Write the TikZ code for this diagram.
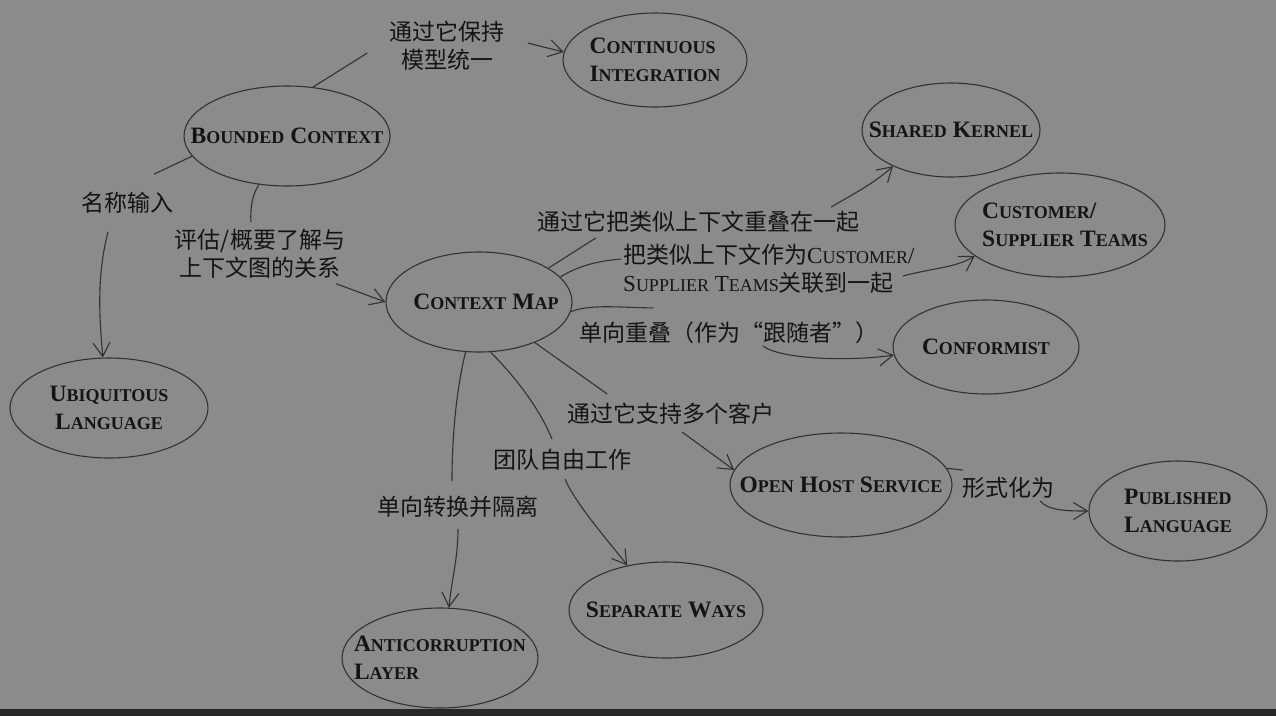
\documentclass[tikz,border=0pt]{standalone}
\usepackage{fontspec}
\setmainfont{Liberation Serif}
\newfontfamily\cjk{Noto Sans CJK SC}
\usepackage{xcolor}
\usetikzlibrary{arrows.meta,shapes.geometric}
\definecolor{bgray}{RGB}{139,139,139}
\definecolor{ink}{RGB}{20,20,20}
\definecolor{pen}{RGB}{50,50,50}
\definecolor{strip}{RGB}{40,40,40}
\newcommand\lowcaps[1]{{\fontsize{18pt}{28pt}\selectfont #1}}

\begin{document}
\begin{tikzpicture}[x=1pt,y=-1pt,
  bubble/.style 2 args={ellipse,draw=pen,line width=1.1pt,inner sep=0pt,
                        minimum width=#1,minimum height=#2},
  bubtext/.style={inner sep=0pt,align=left,text=ink,
              font=\fontsize{23.5pt}{28pt}\selectfont\bfseries},
  note/.style={inner sep=2pt,align=center,text=ink,
               font=\cjk\fontsize{23pt}{28pt}\selectfont},
  wire/.style={draw=pen,line width=1.1pt},
  wirearr/.style={wire,-{Straight Barb[length=14pt,width=17pt]}}]

\useasboundingbox (0,0) rectangle (1276,716);
\fill[bgray] (0,0) rectangle (1276,716);
\fill[strip] (0,709) rectangle (1276,716);

% ---- patterns ----
\node[bubble={206}{100},label={[bubtext]center:{B\lowcaps{OUNDED} C\lowcaps{ONTEXT}}}] (bc) at (287,136) {};
\node[bubble={184}{94},label={[bubtext]center:{C\lowcaps{ONTINUOUS}\\I\lowcaps{NTEGRATION}}}] (ci) at (655,60) {};
\node[bubble={198}{100},label={[bubtext,align=center]center:{U\lowcaps{BIQUITOUS}\\L\lowcaps{ANGUAGE}}}] (ui) at (109,408) {};
\node[bubble={186}{100},label={[bubtext,xshift=7]center:{C\lowcaps{ONTEXT} M\lowcaps{AP}}}] (cm) at (479,302) {};
\node[bubble={178}{94},label={[bubtext]center:{S\lowcaps{HARED} K\lowcaps{ERNEL}}}] (sk) at (951,130) {};
\node[bubble={210}{104},label={[bubtext,xshift=5]center:{C\lowcaps{USTOMER}/\\S\lowcaps{UPPLIER} T\lowcaps{EAMS}}}] (cst) at (1060,225) {};
\node[bubble={186}{94},label={[bubtext]center:{C\lowcaps{ONFORMIST}}}] (conf) at (986,347) {};
\node[bubble={222}{104},label={[bubtext]center:{O\lowcaps{PEN} H\lowcaps{OST} S\lowcaps{ERVICE}}}] (ohs) at (841,485) {};
\node[bubble={178}{100},label={[bubtext]center:{P\lowcaps{UBLISHED}\\L\lowcaps{ANGUAGE}}}] (pl) at (1178,511) {};
\node[bubble={194}{96},label={[bubtext]center:{S\lowcaps{EPARATE} W\lowcaps{AYS}}}] (sw) at (666,610) {};
\node[bubble={196}{100},label={[bubtext]center:{A\lowcaps{NTICORRUPTION}\\L\lowcaps{AYER}}}] (al) at (440,658) {};

% ---- relation texts ----
\node[note] (lci) at (447,46) {通过它保持\\模型统一};
\node[note] (lui) at (127,203) {名称输入};
\node[note] (lcm) at (260,254) {评估/概要了解与\\上下文图的关系};
\node[note] (lsk) at (698,222) {通过它把类似上下文重叠在一起};
\node[note,align=left,anchor=west,font=\fontsize{23pt}{28pt}\selectfont] (lcst) at (621,269)
  {{\cjk 把类似上下文作为}C\lowcaps{USTOMER}/\\S\lowcaps{UPPLIER} T\lowcaps{EAMS}{\cjk 关联到一起}};
\node[note] (lconf) at (729,333) {单向重叠（作为“跟随者”）};
\node[note] (lohs) at (671,414) {通过它支持多个客户};
\node[note] (lsw) at (562,460) {团队自由工作};
\node[note] (lal) at (458,507) {单向转换并隔离};
\node[note] (lpl) at (1008,488) {形式化为};

% ---- Bounded Context side ----
\draw[wire] (bc.62) -- ([xshift=-20,yshift=-7]lci.west);
\draw[wirearr] ([xshift=21,yshift=3]lci.east) -- (ci.175);
\draw[wire] (bc.192) -- ([xshift=27,yshift=16]lui.north);
\draw[wirearr] ([xshift=-19,yshift=-16]lui.south) .. controls +(-12,47) and +(-3,-37) .. (ui.97);
\draw[wire] (bc.240) .. controls +(-7,10) and +(-1,-12) .. ([xshift=-9,yshift=5]lcm.north);
\draw[wirearr] ([xshift=-11,yshift=-3]lcm.south east) -- (cm.west);

% ---- Context Map side ----
\draw[wire] (cm.26) -- ([xshift=61,yshift=-3]lsk.south west);
\draw[wirearr] ([xshift=-30,yshift=2]lsk.north east) .. controls +(20,-12) and +(-20,18) .. (sk.212);
\draw[wire] (cm.17) .. controls +(15,-10) and +(-25,2) .. ([yshift=10]lcst.west);
\draw[wirearr] ([xshift=-14,yshift=-7]lcst.east) .. controls +(30,-8) and +(-20,12) .. (cst.200);
\draw[wire] (cm.354) .. controls +(20,-8) and +(-30,0) .. ([xshift=76,yshift=12]lconf.north west);
\draw[wirearr] ([xshift=34]lconf.south) .. controls +(20,14) and +(-40,6) .. (conf.185);
\draw[wire] (cm.324) -- ([xshift=42,yshift=7]lohs.north west);
\draw[wirearr] ([xshift=11,yshift=-5]lohs.south) -- (ohs.172);
\draw[wire] (cm.283) .. controls +(25,25) and +(-12,-30) .. ([xshift=-10,yshift=8]lsw.north);
\draw[wirearr] ([xshift=3,yshift=-6]lsw.south) .. controls +(10,25) and +(-15,-20) .. (sw.131);
\draw[wire] (cm.255) .. controls +(-10,40) and +(0,-40) .. ([xshift=-6,yshift=13]lal.north);
\draw[wirearr] ([yshift=-9]lal.south) .. controls +(0,30) and +(3,-30) .. (al.80);
\draw[wire] (ohs.9) -- ([xshift=3,yshift=18]lpl.west);
\draw[wirearr] ([xshift=32]lpl.south) .. controls +(8,10) and +(-20,0) .. (pl.west);
\end{tikzpicture}
\end{document}
